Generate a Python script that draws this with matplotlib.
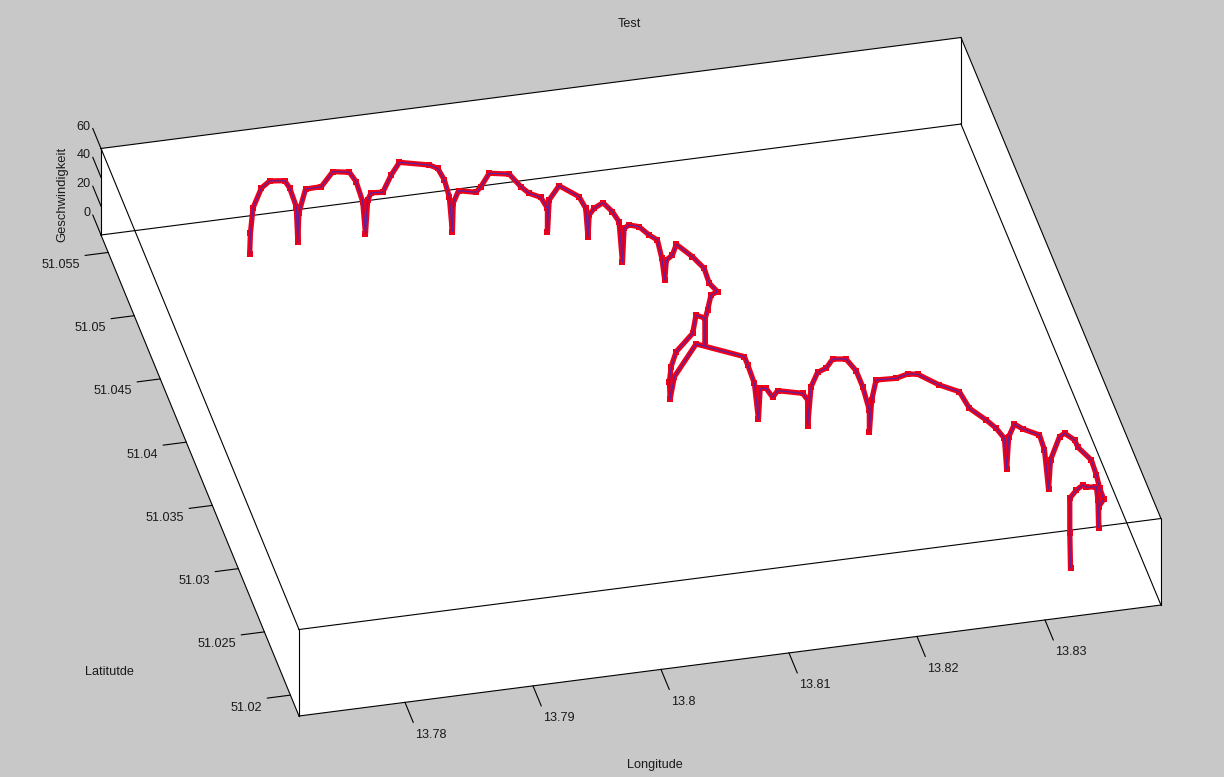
# 3D speed trace along a route, near-parallel projection onto the page
import numpy as np
import matplotlib as mpl; mpl.use('Agg')
import matplotlib.pyplot as plt
mpl.rcParams.update({'font.family': ['Liberation Sans', 'DejaVu Sans'], 'font.size': 9.1, 'text.color': '#1a1a1a'})

lon = [13.78218,13.78224,13.78246,13.78314,13.78382,13.78505,13.78546,13.78600,13.78613,13.78621,13.78673,13.78796,13.78886,13.79016,13.79068,13.79120,
       13.79141,13.79158,13.79184,13.79271,13.79334,13.79396,13.79621,13.79684,13.79734,13.79771,13.79794,13.79801,13.79840,13.79969,13.80006,13.80067,
       13.80215,13.80302,13.80363,13.80450,13.80499,13.80499,13.80511,13.80581,13.80722,13.80769,13.80785,13.80791,13.80817,13.80863,13.80912,13.80946,
       13.80964,13.80974,13.81005,13.81066,13.81128,13.81179,13.81206,13.81224,13.81235,13.81269,13.81309,13.81346,13.81375,13.81367,13.81425,13.81388,
       13.81339,13.81274,13.81274,13.81274,13.81171,13.81112,13.80955,13.80916,13.80893,13.80897,13.80926,13.81072,13.81398,13.81420,13.81465,13.81492,
       13.81504,13.81546,13.81592,13.81627,13.81802,13.81837,13.81837,13.81861,13.81908,13.81968,13.82015,13.82110,13.82182,13.82229,13.82276,13.82277,
       13.82292,13.82321,13.82452,13.82529,13.82595,13.82737,13.82869,13.82935,13.83045,13.83111,13.83165,13.83180,13.83192,13.83226,13.83276,13.83375,
       13.83405,13.83429,13.83439,13.83485,13.83510,13.83561,13.83578,13.83645,13.83671,13.83690,13.83720,13.83682,13.83682,13.83674,13.83655,13.83538,
       13.83498,13.83421,13.83345,13.83345,13.83350]
lat = [51.05349,51.05349,51.05353,51.05359,51.05367,51.05381,51.05385,51.05391,51.05392,51.05393,51.05392,51.05391,51.05391,51.05390,51.05389,51.05390,
       51.05389,51.05388,51.05385,51.05376,51.05369,51.05363,51.05340,51.05334,51.05329,51.05325,51.05322,51.05322,51.05316,51.05299,51.05294,51.05285,
       51.05264,51.05253,51.05244,51.05233,51.05226,51.05226,51.05223,51.05204,51.05166,51.05154,51.05149,51.05142,51.05111,51.05052,51.04993,51.04949,
       51.04928,51.04921,51.04901,51.04860,51.04818,51.04785,51.04766,51.04754,51.04751,51.04718,51.04740,51.04524,51.04371,51.04254,51.04237,51.04272,
       51.04217,51.04103,51.04103,51.04103,51.04028,51.03948,51.03880,51.03881,51.03857,51.03854,51.03843,51.03785,51.03658,51.03649,51.03631,51.03620,
       51.03616,51.03605,51.03592,51.03583,51.03532,51.03523,51.03522,51.03516,51.03506,51.03491,51.03479,51.03457,51.03440,51.03429,51.03417,51.03418,
       51.03411,51.03398,51.03337,51.03302,51.03272,51.03206,51.03146,51.03116,51.03065,51.03035,51.03009,51.03003,51.02993,51.02967,51.02929,51.02853,
       51.02831,51.02812,51.02799,51.02739,51.02704,51.02638,51.02615,51.02524,51.02491,51.02475,51.02471,51.02475,51.02475,51.02469,51.02453,51.02357,
       51.02324,51.02261,51.02204,51.02203,51.02202]
speed = [0.0,14.7,31.5,44.0,47.4,45.0,39.1,25.0,0.0,
         20.2,36.3,36.6,46.0,44.2,37.1,22.6,0.0,
         23.5,28.5,28.6,40.5,49.1,46.7,44.2,36.0,24.3,0.0,
         19.9,28.5,27.4,31.3,40.7,40.3,31.5,27.0,24.2,16.6,0.0,
         22.5,33.3,27.4,19.9,0.0,
         16.0,23.1,31.6,30.0,26.5,0.0,
         24.1,27.8,29.5,26.7,25.6,14.2,0.0,
         14.0,20.0,25.0,35.0,40.0,40.0,35.0,30.0,25.0,30.0,11.5,30.0,40.0,35.0,30.0,20.0,12.0,0.0,
         16.3,42.4,41.0,35.8,24.1,0.0,
         21.5,22.0,16.4,21.4,22.0,17.8,0.0,
         27.3,37.7,41.1,48.0,48.9,41.4,30.8,15.1,0.0,
         22.4,37.1,42.1,47.3,49.0,45.7,44.8,35.2,30.3,26.4,21.1,0.0,
         23.3,34.0,33.3,34.7,25.9,0.0,
         21.4,42.3,47.4,48.0,44.7,43.1,35.3,27.5,19.7,14.6,0.0,
         19.9,30.7,40.1,45.0,48.0,48.1,24.1,0.0]
lon_ticks = [13.78, 13.79, 13.80, 13.81, 13.82, 13.83]
lon_labels = ['13.78', '13.79', '13.8', '13.81', '13.82', '13.83']
lat_ticks = [51.02, 51.025, 51.03, 51.035, 51.04, 51.045, 51.05, 51.055]
lat_labels = ['51.02', '51.025', '51.03', '51.035', '51.04', '51.045', '51.05', '51.055']
spd_ticks = [0, 20, 40, 60]

LON0, LON1 = 13.77172, 13.83906
LAT0, LAT1 = 51.01835, 51.05638
SPD0, SPD1 = 0, 60
BG = '#c8c8c8'

def proj(x, y, z):
    # data -> page pixels; the small x*y term pulls the far right corner in by 2 px
    x = np.asarray(x) - LON0; y = np.asarray(y) - LAT0; z = np.asarray(z)
    skew = -2 * x * y / ((LON1 - LON0) * (LAT1 - LAT0))
    return 299 + 12800 * x - 5206 * y + skew, 716 - 1648 * x - 12648 * y - 86.5 / 60 * z

fig = plt.figure(figsize=(12.24, 7.77), dpi=100, facecolor=BG)
ax = fig.add_axes([0, 0, 1, 1])
ax.set_xlim(0, 1224); ax.set_ylim(777, 0); ax.axis('off')

# white silhouette of the box
sil = [(LON0, LAT1, SPD1), (LON1, LAT1, SPD1), (LON1, LAT0, SPD1), (LON1, LAT0, SPD0), (LON0, LAT0, SPD0), (LON0, LAT1, SPD0)]
px, py = proj(*zip(*sil))
ax.fill(px, py, color='white', lw=0, zorder=0)

edges = [((LON0, LAT1, SPD1), (LON1, LAT1, SPD1)), ((LON1, LAT1, SPD1), (LON1, LAT0, SPD1)),
         ((LON1, LAT0, SPD1), (LON0, LAT0, SPD1)), ((LON0, LAT0, SPD1), (LON0, LAT1, SPD1)),
         ((LON0, LAT1, SPD0), (LON1, LAT1, SPD0)), ((LON1, LAT1, SPD0), (LON1, LAT0, SPD0)),
         ((LON1, LAT0, SPD0), (LON0, LAT0, SPD0)), ((LON0, LAT0, SPD0), (LON0, LAT1, SPD0)),
         ((LON0, LAT1, SPD0), (LON0, LAT1, SPD1)), ((LON1, LAT1, SPD0), (LON1, LAT1, SPD1)),
         ((LON1, LAT0, SPD0), (LON1, LAT0, SPD1)), ((LON0, LAT0, SPD0), (LON0, LAT0, SPD1))]
for p, q in edges:
    ex, ey = proj(*zip(p, q))
    ax.plot(ex, ey, color='k', lw=0.8, zorder=1)

# ticks and labels
for v, s in zip(lon_ticks, lon_labels):
    ex, ey = proj([v, v], [LAT0, LAT0 - 0.00158], [0, 0])
    ax.plot(ex, ey, color='k', lw=0.8, clip_on=False)
    ax.text(ex[0] + 10.5, ey[0] + 32.5, s, ha='left', va='center')
for v, s in zip(lat_ticks, lat_labels):
    ex, ey = proj([LON0, LON0 - 0.0018], [v, v], [0, 0])
    ax.plot(ex, ey, color='k', lw=0.8, clip_on=False)
    ax.text(ex[1] - 5, ey[1] + 9.5, s, ha='right', va='center')
for v in spd_ticks:
    ex, ey = proj([LON0, LON0], [LAT1, LAT1 + 0.00158], [v, v])
    ax.plot(ex, ey, color='k', lw=0.8, clip_on=False)
    ax.text(ex[1] - 2.5, ey[1] - 2, str(v), ha='right', va='center')

ax.text(629, 24, 'Test', ha='center', va='center')
ax.text(655, 765, 'Longitude', ha='center', va='center')
ax.text(109, 672, 'Latitutde', ha='center', va='center')
ax.text(62, 194, 'Geschwindigkeit', rotation=90, ha='center', va='center', fontsize=9.4)

# the route: red squares, thin blue line on top
tx, ty = proj(lon, lat, speed)
ax.plot(tx, ty, '-s', color='#f00018', lw=3.8, ms=4.6, mew=0, solid_joinstyle='round', zorder=3)
ax.plot(tx, ty, '-', color='#5a22a0', lw=0.9, zorder=4)

fig.savefig('out.png', dpi=100, facecolor=BG)
